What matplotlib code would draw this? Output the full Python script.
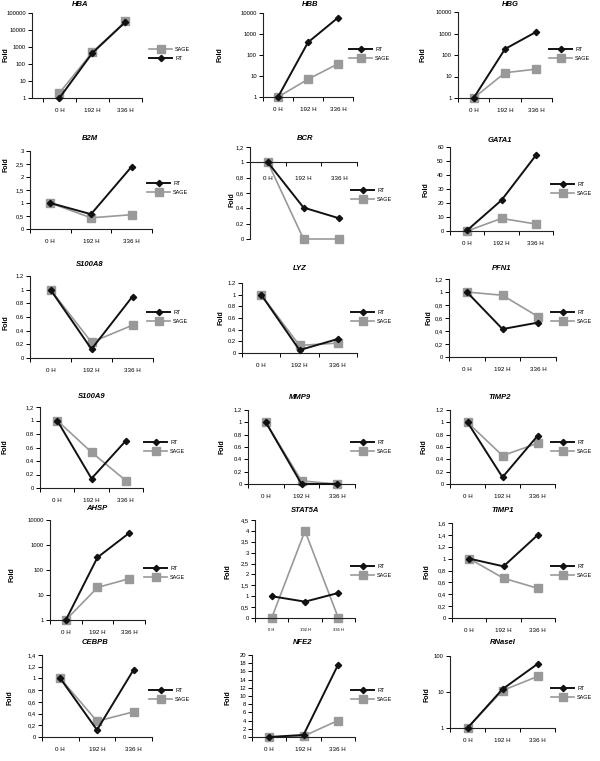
import matplotlib
matplotlib.use("Agg")
import matplotlib.pyplot as plt
from matplotlib.ticker import NullLocator, FixedLocator

plt.rcParams['font.family'] = ['Liberation Sans', 'DejaVu Sans']

categories = ["0 H", "192 H", "336 H"]
genes = ["HBA", "HBB", "HBG", "B2M", "BCR", "GATA1", "S100A8", "LYZ", "PFN1",
         "S100A9", "MMP9", "TIMP2", "AHSP", "STAT5A", "TIMP1", "CEBPB", "NFE2", "RNaseI"]

rt_values = {
    "HBA": [1, 450, 30000], "HBB": [1, 400, 6000], "HBG": [1, 190, 1200],
    "B2M": [1, 0.57, 2.4], "BCR": [1, 0.41, 0.27], "GATA1": [0.5, 22, 54],
    "S100A8": [1, 0.13, 0.9], "LYZ": [1, 0.05, 0.24], "PFN1": [1, 0.43, 0.53],
    "S100A9": [1, 0.14, 0.7], "MMP9": [1, 0.0, 0.0], "TIMP2": [1, 0.11, 0.78],
    "AHSP": [1, 320, 3000], "STAT5A": [1, 0.75, 1.15], "TIMP1": [1, 0.87, 1.4],
    "CEBPB": [1, 0.12, 1.15], "NFE2": [0, 0.5, 17.5], "RNaseI": [1, 12, 60],
}
sage_values = {
    "HBA": [2, 500, 32000], "HBB": [1, 7, 38], "HBG": [1, 15, 22],
    "B2M": [1, 0.43, 0.55], "BCR": [1, 0, 0], "GATA1": [0, 9, 5],
    "S100A8": [1, 0.23, 0.48], "LYZ": [1, 0.13, 0.17], "PFN1": [1, 0.95, 0.62],
    "S100A9": [1, 0.53, 0.11], "MMP9": [1, 0.05, 0.0], "TIMP2": [1, 0.46, 0.66],
    "AHSP": [1, 20, 45], "STAT5A": [0, 4, 0], "TIMP1": [1, 0.67, 0.5],
    "CEBPB": [1, 0.27, 0.43], "NFE2": [0, 0.2, 4], "RNaseI": [1, 11, 27],
}
log_genes = ["HBA", "HBB", "HBG", "AHSP", "RNaseI"]
y_ticks = {
    "HBA": [1, 10, 100, 1000, 10000, 100000],
    "HBB": [1, 10, 100, 1000, 10000],
    "HBG": [1, 10, 100, 1000, 10000],
    "B2M": [0, 0.5, 1, 1.5, 2, 2.5, 3],
    "BCR": [0, 0.2, 0.4, 0.6, 0.8, 1, 1.2],
    "GATA1": [0, 10, 20, 30, 40, 50, 60],
    "S100A8": [0, 0.2, 0.4, 0.6, 0.8, 1, 1.2],
    "LYZ": [0, 0.2, 0.4, 0.6, 0.8, 1, 1.2],
    "PFN1": [0, 0.2, 0.4, 0.6, 0.8, 1, 1.2],
    "S100A9": [0, 0.2, 0.4, 0.6, 0.8, 1, 1.2],
    "MMP9": [0, 0.2, 0.4, 0.6, 0.8, 1, 1.2],
    "TIMP2": [0, 0.2, 0.4, 0.6, 0.8, 1, 1.2],
    "AHSP": [1, 10, 100, 1000, 10000],
    "STAT5A": [0, 0.5, 1, 1.5, 2, 2.5, 3, 3.5, 4, 4.5],
    "TIMP1": [0, 0.2, 0.4, 0.6, 0.8, 1, 1.2, 1.4, 1.6],
    "CEBPB": [0, 0.2, 0.4, 0.6, 0.8, 1, 1.2, 1.4],
    "NFE2": [0, 2, 4, 6, 8, 10, 12, 14, 16, 18, 20],
    "RNaseI": [1, 10, 100],
}
y_tick_labels = {
    "HBA": ["1", "10", "100", "1000", "10000", "100000"],
    "HBB": ["1", "10", "100", "1000", "10000"],
    "HBG": ["1", "10", "100", "1000", "10000"],
    "B2M": ["0", "0,5", "1", "1,5", "2", "2,5", "3"],
    "BCR": ["0", "0.2", "0.4", "0,6", "0,8", "1", "1,2"],
    "GATA1": ["0", "10", "20", "30", "40", "50", "60"],
    "S100A8": ["0", "0.2", "0.4", "0.6", "0.8", "1", "1.2"],
    "LYZ": ["0", "0.2", "0.4", "0.6", "0.8", "1", "1.2"],
    "PFN1": ["0", "0,2", "0,4", "0,6", "0,8", "1", "1,2"],
    "S100A9": ["0", "0.2", "0.4", "0.6", "0.8", "1", "1,2"],
    "MMP9": ["0", "0.2", "0.4", "0.6", "0.8", "1", "1.2"],
    "TIMP2": ["0", "0.2", "0.4", "0.6", "0.8", "1", "1.2"],
    "AHSP": ["1", "10", "100", "1000", "10000"],
    "STAT5A": ["0", "0,5", "1", "1,5", "2", "2,5", "3", "3,5", "4", "4,5"],
    "TIMP1": ["0", "0,2", "0,4", "0,6", "0,8", "1", "1,2", "1,4", "1,6"],
    "CEBPB": ["0", "0,2", "0,4", "0,6", "0,8", "1", "1,2", "1,4"],
    "NFE2": ["0", "2", "4", "6", "8", "10", "12", "14", "16", "18", "20"],
    "RNaseI": ["1", "10", "100"],
}
legend_first = {g: "RT" for g in genes}
legend_first["HBA"] = "SAGE"

# layout in pixels: axes (left, top, right, bottom), title (x, y), fold (x, y), legend (x, y)
W, H = 600, 761
layout = {
    "HBA":    ((32, 13, 142, 98),   (80, 5),    (6, 55),    (149, 54)),
    "HBB":    ((263, 13, 353, 97),  (310, 4),   (220, 55),  (349, 54)),
    "HBG":    ((458, 12, 552, 98),  (510, 4),   (423, 55),  (549, 54)),
    "B2M":    ((30, 151, 152, 229), (90, 138),  (6, 165),   (147, 188)),
    "BCR":    ((250, 147, 357, 239),(305, 139), (232, 200), (351, 195)),
    "GATA1":  ((450, 147, 553, 231),(500, 140), (426, 190), (551, 189)),
    "S100A8": ((30, 276, 153, 358), (90, 265),  (6, 323),   (147, 317)),
    "LYZ":    ((242, 283, 357, 353),(300, 268), (221, 318), (351, 317)),
    "PFN1":   ((449, 279, 556, 357),(502, 268), (429, 318), (551, 317)),
    "S100A9": ((40, 407, 143, 488), (92, 396),  (5, 447),   (144, 447)),
    "MMP9":   ((248, 410, 355, 484),(300, 397), (222, 447), (351, 447)),
    "TIMP2":  ((450, 410, 555, 484),(500, 397), (424, 447), (551, 447)),
    "AHSP":   ((50, 520, 145, 620), (97, 508),  (12, 575),  (144, 573)),
    "STAT5A": ((255, 520, 355, 618),(305, 510), (228, 572), (351, 571)),
    "TIMP1":  ((452, 523, 555, 618),(503, 510), (427, 572), (551, 571)),
    "CEBPB":  ((42, 655, 152, 737), (95, 643),  (10, 698),  (149, 695)),
    "NFE2":   ((252, 655, 355, 737),(303, 643), (228, 698), (351, 695)),
    "RNaseI": ((450, 656, 555, 728),(503, 643), (427, 695), (551, 693)),
}
x_limits = {g: (0, 3) for g in genes}
x_limits["HBA"] = (-0.33, 2.75)

fig = plt.figure(figsize=(W / 100, H / 100), dpi=100)
fig.patch.set_facecolor("white")
x = [0.5, 1.5, 2.5]

for g in genes:
    (l, t, r, b), (tx, ty), (fx, fy), (lx, ly) = layout[g]
    ax = fig.add_axes([l / W, 1 - b / H, (r - l) / W, (b - t) / H])
    if g == "BCR":
        ax.spines["bottom"].set_position(("data", 1))
    rt_line, = ax.plot(x, rt_values[g], color="#111111", lw=1.4, marker="D", ms=3.2,
                       clip_on=False, zorder=3)
    sage_line, = ax.plot(x, sage_values[g], color="#999999", lw=1.2, marker="s", ms=5.5,
                         clip_on=False, zorder=2)
    ticks = y_ticks[g]
    if g in log_genes:
        ax.set_yscale("log")
    ax.set_ylim(ticks[0], ticks[-1])
    ax.yaxis.set_major_locator(FixedLocator(ticks))
    ax.set_yticklabels(y_tick_labels[g])
    ax.yaxis.set_minor_locator(NullLocator())
    ax.set_xlim(*x_limits[g])
    ax.set_xticks([0, 1, 2, 3])
    ax.set_xticklabels([])
    ax.set_xticks(x, minor=True)
    xfs = 3.0 if g == "STAT5A" else 4.5
    ax.set_xticklabels(categories, minor=True, fontsize=xfs)
    for s in ["top", "right"]:
        ax.spines[s].set_visible(False)
    for s in ["left", "bottom"]:
        ax.spines[s].set_linewidth(0.8)
        ax.spines[s].set_color("#222222")
    ax.tick_params(axis="x", which="major", length=3, width=0.7, direction="out")
    ax.tick_params(axis="x", which="minor", length=0, pad=7 if g != "BCR" else 10)
    ax.tick_params(axis="y", which="major", length=3, width=0.7, labelsize=4.2, pad=1.5)
    ax.set_facecolor("none")

    fig.text(tx / W, 1 - ty / H, g, ha="center", va="center", fontsize=5.5,
             fontweight="bold", fontstyle="italic")
    fig.text(fx / W, 1 - fy / H, "Fold", ha="center", va="center", fontsize=5,
             fontweight="bold", rotation=90)
    if legend_first[g] == "RT":
        handles, labels = [rt_line, sage_line], ["RT", "SAGE"]
    else:
        handles, labels = [sage_line, rt_line], ["SAGE", "RT"]
    ax.legend(handles, labels, loc="center left",
              bbox_to_anchor=(lx / W, 1 - ly / H), bbox_transform=fig.transFigure,
              frameon=False, fontsize=4, handlelength=4.2, handletextpad=0.5,
              labelspacing=0.6, borderaxespad=0, borderpad=0)

fig.savefig("out.png", dpi=100, facecolor="white")
